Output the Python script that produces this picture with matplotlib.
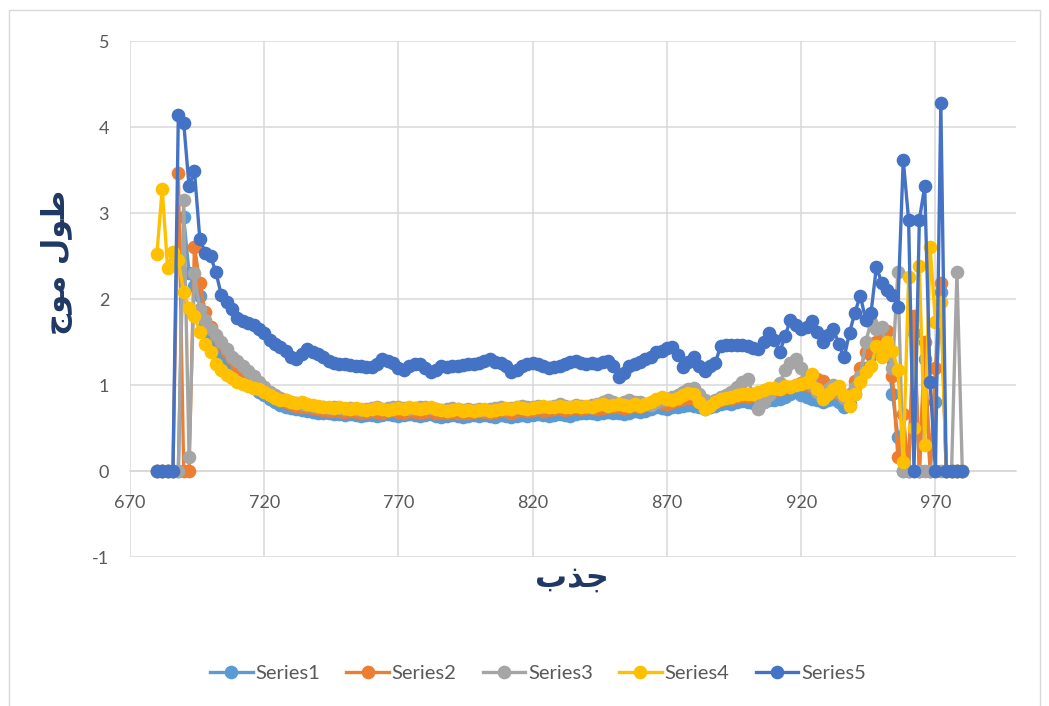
import matplotlib
matplotlib.use("Agg")
import matplotlib.pyplot as plt
from matplotlib.patches import Rectangle

plt.rcParams["axes.unicode_minus"] = False

# ---------------- data ----------------
wavelength = list(range(680, 982, 2))

series1 = [0, 0, 0, 0, 0, 2.95, 2.30, 2.15, 2.03, 1.72,
           1.55, 1.45, 1.36, 1.28, 1.20, 1.12, 1.06, 1.00, 0.96, 0.92,
           0.88, 0.84, 0.80, 0.77, 0.75, 0.73, 0.72, 0.71, 0.70, 0.69,
           0.68, 0.67, 0.67, 0.66, 0.66, 0.65, 0.66, 0.65, 0.64, 0.65,
           0.65, 0.64, 0.65, 0.66, 0.65, 0.64, 0.65, 0.66, 0.65, 0.64,
           0.65, 0.66, 0.64, 0.63, 0.64, 0.65, 0.64, 0.63, 0.64, 0.65,
           0.64, 0.65, 0.64, 0.63, 0.65, 0.64, 0.63, 0.64, 0.65, 0.64,
           0.65, 0.66, 0.65, 0.64, 0.65, 0.66, 0.65, 0.64, 0.66, 0.67,
           0.68, 0.67, 0.66, 0.68, 0.69, 0.68, 0.67, 0.66, 0.68, 0.70,
           0.69, 0.70, 0.72, 0.74, 0.73, 0.72, 0.74, 0.75, 0.76, 0.77,
           0.76, 0.74, 0.72, 0.74, 0.76, 0.78, 0.79, 0.78, 0.80, 0.81,
           0.80, 0.79, 0.78, 0.80, 0.82, 0.83, 0.84, 0.86, 0.90, 0.92,
           0.88, 0.86, 0.84, 0.82, 0.80, 0.82, 0.84, 0.80, 0.74, 0.78,
           0.90, 1.05, 1.20, 1.35, 1.45, 1.50, 1.40, 0.90, 0.40, 0,
           0, 1.60, 0, 1.30, 0, 0.80, 2.08, 0, 0, 0,
           0]

series2 = [0, 0, 0, 0, 3.47, 0, 0, 2.61, 2.19, 1.85,
           1.68, 1.57, 1.48, 1.38, 1.30, 1.22, 1.18, 1.10, 1.04, 0.98,
           0.94, 0.90, 0.86, 0.82, 0.80, 0.78, 0.76, 0.75, 0.74, 0.73,
           0.72, 0.71, 0.70, 0.71, 0.70, 0.69, 0.70, 0.69, 0.68, 0.69,
           0.70, 0.69, 0.68, 0.70, 0.71, 0.69, 0.68, 0.70, 0.69, 0.68,
           0.69, 0.70, 0.68, 0.67, 0.68, 0.69, 0.68, 0.67, 0.68, 0.69,
           0.70, 0.69, 0.68, 0.69, 0.71, 0.70, 0.68, 0.70, 0.71, 0.70,
           0.71, 0.72, 0.70, 0.71, 0.72, 0.73, 0.71, 0.72, 0.73, 0.72,
           0.73, 0.74, 0.72, 0.73, 0.74, 0.75, 0.74, 0.73, 0.75, 0.76,
           0.75, 0.77, 0.78, 0.80, 0.79, 0.78, 0.80, 0.82, 0.84, 0.85,
           0.84, 0.80, 0.76, 0.78, 0.80, 0.83, 0.85, 0.84, 0.86, 0.87,
           0.86, 0.88, 0.90, 0.92, 0.91, 0.93, 0.95, 0.96, 0.98, 1.00,
           1.02, 1.00, 0.98, 1.07, 1.05, 0.95, 0.92, 0.90, 0.85, 0.88,
           1.05, 1.20, 1.38, 1.45, 1.50, 1.55, 1.63, 1.10, 0.16, 0.66,
           0, 1.80, 0, 1.50, 0, 1.20, 2.19, 0, 0, 0,
           0]

series3 = [0, 0, 0, 0, 0, 3.15, 0.16, 2.30, 1.88, 1.76,
           1.65, 1.58, 1.50, 1.42, 1.33, 1.28, 1.22, 1.16, 1.10, 1.04,
           0.98, 0.92, 0.88, 0.85, 0.82, 0.80, 0.79, 0.78, 0.77, 0.76,
           0.75, 0.74, 0.73, 0.74, 0.73, 0.72, 0.73, 0.72, 0.71, 0.72,
           0.73, 0.74, 0.72, 0.73, 0.74, 0.75, 0.73, 0.72, 0.73, 0.74,
           0.75, 0.73, 0.72, 0.71, 0.72, 0.73, 0.72, 0.71, 0.72, 0.71,
           0.72, 0.71, 0.72, 0.73, 0.74, 0.72, 0.73, 0.75, 0.76, 0.74,
           0.75, 0.76, 0.75, 0.74, 0.76, 0.78, 0.76, 0.75, 0.77, 0.76,
           0.75, 0.77, 0.78, 0.80, 0.82, 0.80, 0.78, 0.80, 0.82, 0.80,
           0.80, 0.78, 0.77, 0.80, 0.82, 0.84, 0.86, 0.88, 0.92, 0.95,
           0.97, 0.90, 0.82, 0.78, 0.82, 0.86, 0.88, 0.92, 0.98, 1.04,
           1.07, 0.90, 0.72, 0.80, 0.88, 0.95, 1.02, 1.18, 1.26, 1.30,
           1.20, 1.10, 1.00, 0.92, 0.90, 0.95, 1.00, 0.92, 0.85, 0.90,
           0.98, 1.10, 1.50, 1.73, 1.65, 1.68, 1.40, 1.20, 2.31, 0,
           0, 0, 0, 0, 0, 0, 0, 0, 0, 2.31,
           0]

series4 = [2.52, 3.28, 2.36, 2.55, 2.45, 2.08, 1.90, 1.80, 1.62, 1.48,
           1.38, 1.25, 1.18, 1.12, 1.08, 1.04, 1.01, 0.99, 0.97, 0.95,
           0.92, 0.88, 0.85, 0.83, 0.82, 0.80, 0.79, 0.80, 0.78, 0.77,
           0.76, 0.75, 0.74, 0.73, 0.74, 0.73, 0.72, 0.73, 0.72, 0.71,
           0.72, 0.73, 0.72, 0.71, 0.72, 0.73, 0.72, 0.74, 0.73, 0.72,
           0.73, 0.74, 0.72, 0.71, 0.70, 0.71, 0.72, 0.70, 0.71, 0.70,
           0.71, 0.72, 0.70, 0.71, 0.72, 0.73, 0.72, 0.74, 0.73, 0.72,
           0.73, 0.74, 0.76, 0.75, 0.74, 0.76, 0.75, 0.74, 0.76, 0.75,
           0.76, 0.75, 0.77, 0.78, 0.76, 0.77, 0.78, 0.77, 0.76, 0.78,
           0.76, 0.78, 0.80, 0.84, 0.86, 0.84, 0.83, 0.85, 0.88, 0.91,
           0.90, 0.80, 0.72, 0.76, 0.80, 0.84, 0.85, 0.86, 0.88, 0.89,
           0.89, 0.90, 0.92, 0.94, 0.96, 0.97, 0.95, 0.99, 0.98, 1.00,
           1.01, 1.03, 1.13, 0.95, 0.84, 0.90, 0.95, 0.99, 0.88, 0.76,
           0.90, 1.03, 1.15, 1.22, 1.45, 1.33, 1.50, 1.40, 1.18, 0.10,
           2.26, 0.50, 2.38, 0.30, 2.61, 1.73, 1.96, 0, 0, 0,
           0]

series5 = [0, 0, 0, 0, 4.14, 4.05, 3.31, 3.49, 2.70, 2.54,
           2.50, 2.31, 2.05, 1.97, 1.88, 1.78, 1.74, 1.72, 1.70, 1.65,
           1.60, 1.52, 1.48, 1.44, 1.40, 1.33, 1.30, 1.36, 1.42, 1.38,
           1.36, 1.32, 1.28, 1.26, 1.25, 1.24, 1.23, 1.22, 1.22, 1.21,
           1.21, 1.24, 1.30, 1.28, 1.26, 1.20, 1.18, 1.22, 1.24, 1.25,
           1.20, 1.15, 1.18, 1.22, 1.21, 1.22, 1.22, 1.23, 1.24, 1.25,
           1.26, 1.28, 1.30, 1.27, 1.26, 1.22, 1.15, 1.18, 1.22, 1.24,
           1.26, 1.24, 1.22, 1.20, 1.21, 1.22, 1.24, 1.27, 1.28, 1.26,
           1.25, 1.26, 1.25, 1.27, 1.28, 1.22, 1.09, 1.14, 1.22, 1.24,
           1.27, 1.30, 1.33, 1.38, 1.40, 1.43, 1.44, 1.35, 1.21, 1.27,
           1.32, 1.22, 1.16, 1.22, 1.26, 1.45, 1.46, 1.47, 1.46, 1.47,
           1.45, 1.43, 1.42, 1.50, 1.61, 1.52, 1.38, 1.57, 1.76, 1.70,
           1.65, 1.68, 1.74, 1.62, 1.50, 1.58, 1.65, 1.48, 1.32, 1.61,
           1.84, 2.04, 1.76, 1.84, 2.37, 2.19, 2.11, 2.05, 1.91, 3.62,
           2.92, 0, 2.92, 3.31, 1.03, 0, 4.28, 0, 0, 0,
           0]

series_names = ["Series1", "Series2", "Series3", "Series4", "Series5"]
series_values = [series1, series2, series3, series4, series5]
series_colors = ["#5B9BD5", "#ED7D31", "#A5A5A5", "#FFC000", "#4472C4"]

x_ticks = [670, 720, 770, 820, 870, 920, 970]
y_ticks = [-1, 0, 1, 2, 3, 4, 5]

# Arabic axis titles (shaped presentation forms in visual order)
x_title = "\uFE8F\uFEAC\uFE9F"                      # جذب
y_title = "\uFE9D\uFEEE\uFEE3 \uFEDD\uFEEE\uFEC3"   # طول موج

# ---------------- figure ----------------
W, H = 1049, 706
fig = plt.figure(figsize=(W / 100, H / 100), dpi=100)
fig.patch.set_facecolor("white")

# outer chart border
fig.patches.append(Rectangle((9 / W, -0.02), (1040 - 9) / W, 1.02 - 10 / H,
                             transform=fig.transFigure, fill=False,
                             edgecolor="#D9D9D9", linewidth=1.0))

ax = fig.add_axes([130 / W, 1 - 557 / H, (1016 - 130) / W, (557 - 41) / H])

for name, vals, col in zip(series_names, series_values, series_colors):
    ax.plot(wavelength, vals, "-o", color=col, linewidth=2.4,
            markersize=8.8, label=name, zorder=3)

ax.set_xlim(670, 1000)
ax.set_ylim(-1, 5)
ax.set_xticks(x_ticks)
ax.set_yticks(y_ticks)
ax.grid(True, color="#D9D9D9", linewidth=1.1)
ax.set_axisbelow(True)

for s in ["top", "right", "left"]:
    ax.spines[s].set_visible(False)
ax.spines["bottom"].set_position(("data", 0))
ax.spines["bottom"].set_color("#D9D9D9")
ax.spines["bottom"].set_linewidth(1.1)
ax.spines["bottom"].set_zorder(1)

ax.tick_params(axis="both", length=0, colors="#595959", labelsize=13)
ax.tick_params(axis="x", pad=17)
ax.tick_params(axis="y", pad=15)
for lab in ax.get_xticklabels() + ax.get_yticklabels():
    lab.set_fontfamily(["Lato", "DejaVu Sans"])

fig.text(57 / W, 1 - 262 / H, y_title, rotation=90, ha="center", va="center",
         fontsize=22, fontweight="bold", color="#1F3864",
         family=["DejaVu Sans"])
fig.text(572 / W, 1 - 578 / H, x_title, ha="center", va="center",
         fontsize=23, fontweight="bold", color="#1F3864",
         family=["DejaVu Sans"])

leg = fig.legend(loc="center", bbox_to_anchor=(538 / W, 1 - 673 / H), ncol=5,
                 frameon=False, handlelength=2.1, markerscale=1.0,
                 columnspacing=1.3, handletextpad=0.15,
                 prop={"family": ["Lato", "DejaVu Sans"], "size": 14.5})
for t in leg.get_texts():
    t.set_color("#595959")

fig.savefig("out.png", dpi=100)
